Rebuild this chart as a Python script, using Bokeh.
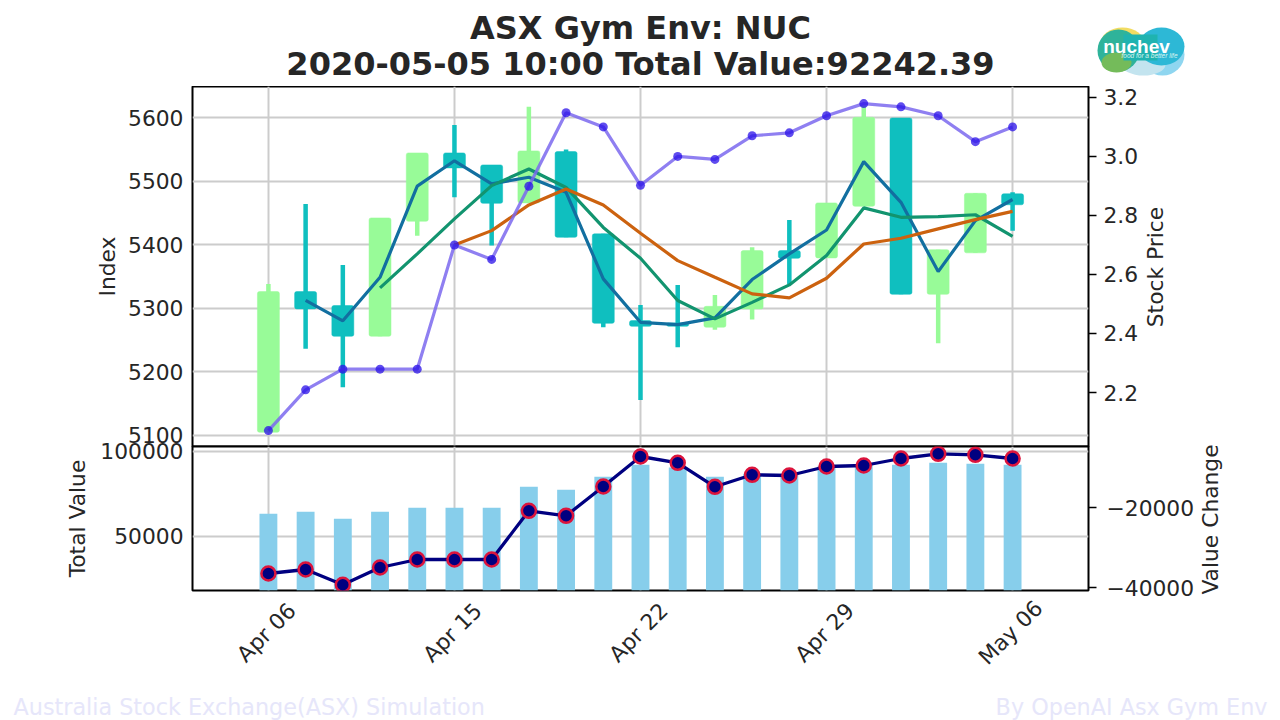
from bokeh.plotting import figure
from bokeh.layouts import column
from bokeh.models import Range1d, LinearAxis, FixedTicker, Grid
from bokeh.core.properties import value
from bokeh.embed import file_html
from bokeh.resources import INLINE
import math

title_line1 = "ASX Gym Env: NUC"
title_line2 = "2020-05-05 10:00 Total Value:92242.39"
footer_left = "Australia Stock Exchange(ASX) Simulation"
footer_right = "By OpenAI Asx Gym Env"

days = list(range(21))
date_pos = [0, 5, 10, 15, 20]
date_labels = ["Apr 06", "Apr 15", "Apr 22", "Apr 29", "May 06"]

opens = [5104.4, 5326, 5304, 5255.6, 5436.7, 5544.4, 5525.5, 5465.7, 5546.5, 5416.9, 5280.3, 5276.7, 5269.8, 5298.7, 5390.6, 5379, 5460.3, 5599.5, 5321.7, 5387, 5480]
closes = [5326, 5298.7, 5255.6, 5442, 5544.4, 5520.8, 5465, 5547.6, 5411.5, 5276, 5271.3, 5271.3, 5302.8, 5390.6, 5378.4, 5465.7, 5600.5, 5321.7, 5392, 5480.8, 5462.7]
highs = [5338, 5464, 5368, 5442, 5544.4, 5588.5, 5525.5, 5617.3, 5549.6, 5416.9, 5305, 5336.5, 5320.8, 5395.7, 5438.9, 5465.7, 5619, 5599.5, 5392, 5480.8, 5482.4]
lows = [5104.4, 5235.8, 5175.3, 5255.6, 5414, 5474.5, 5398.4, 5465.7, 5411.5, 5269.8, 5155.4, 5238.3, 5266, 5281.9, 5338, 5379, 5460.3, 5321.7, 5244.6, 5387, 5422]

ma3 = [None, 5312, 5280, 5348.5, 5492, 5532, 5495.6, 5506, 5482.4, 5346, 5277.6, 5274, 5284.6, 5345, 5385.4, 5423, 5530.7, 5466.6, 5357.5, 5437.8, 5471]
ma5 = [None, None, None, 5331.8, 5385.4, 5440.5, 5492.9, 5519, 5490, 5427, 5378.4, 5312, 5283, 5309, 5336.5, 5382.7, 5457.8, 5443, 5444, 5447, 5413]
ma10 = [None, None, None, None, None, 5399.5, 5422, 5462.5, 5487.7, 5462.5, 5417.8, 5374.8, 5348.5, 5322.4, 5316, 5347, 5401, 5410, 5424.7, 5439.4, 5452.4]
price = [2.071, 2.209, 2.279, 2.279, 2.279, 2.70, 2.651, 2.899, 3.148, 3.10, 2.902, 3.0, 2.99, 3.07, 3.08, 3.138, 3.179, 3.168, 3.138, 3.05, 3.10]

total_value = [63353, 64529, 60412, 64529, 66882, 66882, 66882, 79235, 77470, 85118, 92176, 90588, 85118, 86882, 86882, 91588, 92176, 92176, 93353, 92765, 92176]
value_change = [-36500, -35500, -39325, -35000, -33000, -33000, -33000, -20825, -22075, -14750, -7250, -8825, -14825, -11825, -12000, -9750, -9500, -7750, -6575, -6825, -7750]

FONT = "DejaVu Sans"
TICK = "21.8px"
INK = "#262626"
W = 1280


def clean(xs, ys):
    pairs = [(x, y) for x, y in zip(xs, ys) if y is not None]
    return [p[0] for p in pairs], [p[1] for p in pairs]


def style_axis(ax, label=None, tick_standoff=3, label_standoff=5):
    ax.axis_line_color = None
    ax.minor_tick_line_color = None
    ax.major_label_text_font = FONT
    ax.major_label_text_font_size = TICK
    ax.major_label_text_color = INK
    if label:
        ax.axis_label = label
        ax.axis_label_text_font = FONT
        ax.axis_label_text_font_size = TICK
        ax.axis_label_text_font_style = "normal"
        ax.axis_label_text_color = INK
        ax.axis_label_standoff = label_standoff
    ax.major_label_standoff = tick_standoff


# header strip in page pixels
header = figure(width=W, height=86, x_range=Range1d(0, W), y_range=Range1d(86, 0),
                x_axis_type=None, y_axis_type=None, output_backend="svg", toolbar_location=None,
                min_border=0, outline_line_color=None)
header.frame_align = False
header.grid.visible = False
header.text([640], [27], text=[title_line1], text_font=value(FONT), text_font_style="bold",
            text_font_size="32px", text_align="center", text_baseline="middle", text_color=INK)
header.text([640], [63], text=[title_line2], text_font=value(FONT), text_font_style="bold",
            text_font_size="32px", text_align="center", text_baseline="middle", text_color=INK)
header.ellipse([1122], [43], width=44, height=32, fill_color="#f2dc62", line_color=None)
header.ellipse([1162], [54], width=44, height=42, fill_color="#8fd6f0", line_color=None)
header.ellipse([1143], [64], width=44, height=22, fill_color="#c3e4ef", line_color=None)
header.ellipse([1118], [50], width=42, height=42, fill_color="#2fb39a", line_color=None)
header.ellipse([1116], [62], width=30, height=20, fill_color="#74bb5a", line_color=None)
header.ellipse([1161], [46], width=46, height=38, fill_color="#2db8d6", line_color=None)
header.rect([1140], [47], width=34, height=26, fill_color="#1fb3b0", line_color=None)
header.text([1136], [46], text=["nuchev"], text_font=value("Liberation Sans"), text_font_style="bold",
            text_font_size="19px", text_align="center", text_baseline="middle", text_color="white")
header.text([1149], [55], text=["food for a better life"], text_font=value("Liberation Sans"), text_font_style="italic",
            text_font_size="6.5px", text_align="center", text_baseline="middle", text_color="#d9f3ee")

# main panel
main = figure(width=W, height=370, x_range=Range1d(-2.04, 22.04), y_range=Range1d(5082, 5649),
              x_axis_type=None, output_backend="svg", toolbar_location=None,
              min_border_left=192, min_border_right=192, min_border_top=0, min_border_bottom=10,
              outline_line_color="black", outline_line_width=2, margin=(0, 0, -10, 0))
main.extra_y_ranges = {"price": Range1d(2.017, 3.237)}
main.add_layout(Grid(dimension=0, ticker=FixedTicker(ticks=date_pos),
                     grid_line_color="#cccccc", grid_line_width=2))
main.ygrid.ticker = FixedTicker(ticks=[5100, 5200, 5300, 5400, 5500, 5600])
main.ygrid.grid_line_color = "#cccccc"
main.ygrid.grid_line_width = 2
yax = main.yaxis[0]
yax.ticker = FixedTicker(ticks=[5100, 5200, 5300, 5400, 5500, 5600])
yax.major_tick_line_color = None
style_axis(yax, "Index", 3, 5)

rax = LinearAxis(y_range_name="price", ticker=FixedTicker(ticks=[2.2, 2.4, 2.6, 2.8, 3.0, 3.2]))
rax.major_label_overrides = {3.0: "3.0"}
style_axis(rax, None, 7)
rax.major_tick_line_color = "black"
rax.major_tick_line_width = 1.5
rax.major_tick_in = 0
rax.major_tick_out = 8
main.add_layout(rax, "right")

UP = "#98fb98"
DOWN = "#0fbfbf"
colors = [UP if c >= o else DOWN for o, c in zip(opens, closes)]
main.segment(days, lows, days, highs, line_color=colors, line_width=4.5)
main.vbar(x=days, top=[max(a, b) for a, b in zip(opens, closes)],
          bottom=[min(a, b) for a, b in zip(opens, closes)], width=0.59,
          fill_color=colors, line_color=colors, line_width=0.5, border_radius=2)
x, y = clean(days, ma3)
main.line(x, y, line_color="#126fa0", line_width=3.2)
x, y = clean(days, ma5)
main.line(x, y, line_color="#12946f", line_width=3.2)
x, y = clean(days, ma10)
main.line(x, y, line_color="#cc620f", line_width=3.2)
main.line(days, price, y_range_name="price", line_color="#7b68ee", line_width=3.2, line_alpha=0.85)
main.scatter(days, price, y_range_name="price", size=9, fill_color="#2a10e8", fill_alpha=0.75, line_color=None)

# lower panel
low = figure(width=W, height=192, x_range=main.x_range, y_range=Range1d(18235, 102941),
             x_axis_type=None, output_backend="svg", toolbar_location=None,
             min_border_left=192, min_border_right=192, min_border_top=24, min_border_bottom=24,
             outline_line_color="black", outline_line_width=2, border_fill_color=None,
             margin=(-24, 0, -24, 0))
low.extra_y_ranges = {"chg": Range1d(-40750, -4750)}
low.add_layout(Grid(dimension=0, ticker=FixedTicker(ticks=date_pos),
                    grid_line_color="#cccccc", grid_line_width=2))
low.ygrid.ticker = FixedTicker(ticks=[50000, 100000])
low.ygrid.grid_line_color = "#cccccc"
low.ygrid.grid_line_width = 2
lax = low.yaxis[0]
lax.ticker = FixedTicker(ticks=[50000, 100000])
lax.major_label_overrides = {50000: "50000", 100000: "100000"}
lax.major_tick_line_color = None
style_axis(lax, "Total Value", 3, 7)
rax2 = LinearAxis(y_range_name="chg", ticker=FixedTicker(ticks=[-20000, -40000]))
rax2.major_label_overrides = {-20000: "\u221220000", -40000: "\u221240000"}
style_axis(rax2, None, 10)
rax2.major_tick_line_color = "black"
rax2.major_tick_line_width = 1.5
rax2.major_tick_in = 0
rax2.major_tick_out = 8
low.add_layout(rax2, "right")

low.vbar(x=days, top=total_value, bottom=18235, width=0.48, fill_color="#87ceeb", line_color=None)
low.line(days, value_change, y_range_name="chg", line_color="#000080", line_width=3.3)
low.scatter(days, value_change, y_range_name="chg", size=14, fill_color="#000080",
            line_color="#dc143c", line_width=2.5)

# date labels strip sharing the panels' x scale
xlab = figure(width=W, height=90, x_range=main.x_range, y_range=Range1d(680, 590),
              x_axis_type=None, y_axis_type=None, output_backend="svg", toolbar_location=None,
              min_border_left=192, min_border_right=192, min_border_top=0, min_border_bottom=0,
              outline_line_color=None, border_fill_color=None, background_fill_color=None)
xlab.grid.visible = False
xlab.text(date_pos, [632] * 5, text=date_labels, angle=math.pi / 4, text_font=value(FONT),
          text_font_size=TICK, text_align="center", text_baseline="middle", text_color=INK,
          x_offset=-2)

# footer strip in page pixels
foot = figure(width=W, height=40, x_range=Range1d(0, W), y_range=Range1d(720, 680),
              x_axis_type=None, y_axis_type=None, output_backend="svg", toolbar_location=None,
              min_border=0, outline_line_color=None)
foot.frame_align = False
foot.grid.visible = False
foot.text([13], [706], text=[footer_left], text_font=value(FONT), text_font_size="22.3px",
          text_align="left", text_baseline="middle", text_color="#e6e6fa")
foot.text([1267], [706], text=[footer_right], text_font=value(FONT), text_font_size="22.3px",
          text_align="right", text_baseline="middle", text_color="#e6e6fa")

# transparent page-pixel overlay for the two right-hand axis titles
over = figure(width=W, height=720, x_range=Range1d(0, W), y_range=Range1d(720, 0),
              x_axis_type=None, y_axis_type=None, output_backend="svg", toolbar_location=None,
              min_border=0, outline_line_color=None, border_fill_color=None, background_fill_color=None,
              margin=(-720, 0, 0, 0))
over.frame_align = False
over.grid.visible = False
over.text([1155, 1210], [266.5, 519], text=["Stock Price", "Value Change"], angle=math.pi / 2,
          text_font=value(FONT), text_font_size=TICK, text_align="center", text_baseline="middle",
          text_color=INK)

page = column(header, main, low, xlab, foot, over, spacing=0)
open("out.html", "w").write(file_html(page, INLINE))
